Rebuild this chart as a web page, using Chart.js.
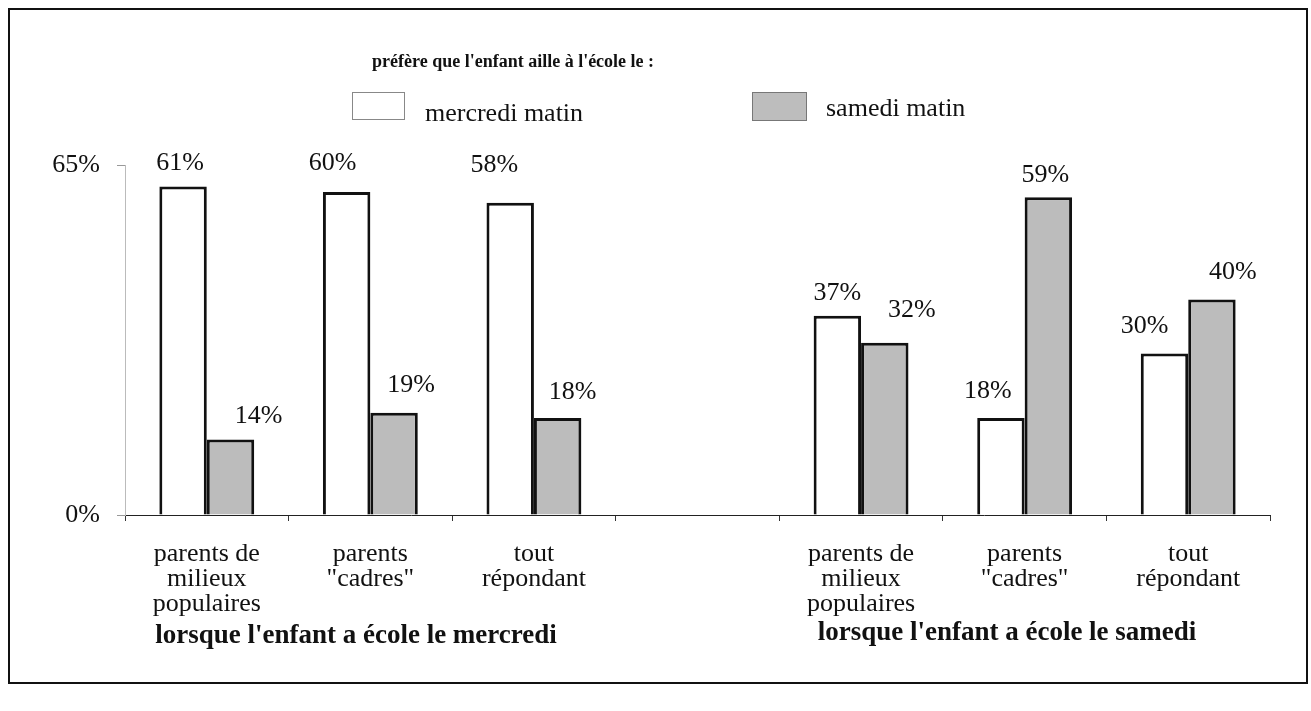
<!DOCTYPE html>
<html>
<head>
<meta charset="utf-8">
<script src="https://cdn.jsdelivr.net/npm/chart.js@4.4.1/dist/chart.umd.min.js"></script>
<style>
  body { margin: 0; background: #fff; font-family: "Liberation Serif", serif; color: #111; }
  #wrap { position: relative; width: 1311px; height: 711px; overflow: hidden; }
  #frame { position: absolute; left: 8px; top: 8px; width: 1296px; height: 672px; border: 2px solid #111; }
  canvas { position: absolute; left: 0; top: 0; }
  .txt { position: absolute; white-space: nowrap; line-height: 1.15; }
  .title { font-weight: bold; font-size: 18px; }
  .sub { font-weight: bold; font-size: 27px; transform: translateX(-50%); }
  .leg { font-size: 26px; }
  .box { position: absolute; }
</style>
</head>
<body>
<div id="wrap">
  <div id="frame"></div>
  <canvas id="chart" width="1311" height="711"></canvas>
  <div class="txt title" style="left:372px; top:51px;">préfère que l'enfant aille à l'école le :</div>
  <div class="box" style="left:352px; top:92px; width:51px; height:26px; border:1px solid #888; background:#fff;"></div>
  <div class="txt leg" style="left:425px; top:98px;">mercredi matin</div>
  <div class="box" style="left:752px; top:92px; width:53px; height:27px; border:1px solid #777; background:#bdbdbd;"></div>
  <div class="txt leg" style="left:826px; top:93px;">samedi matin</div>
  <div class="txt sub" style="left:356px; top:619px;">lorsque l'enfant a école le mercredi</div>
  <div class="txt sub" style="left:1007px; top:616px;">lorsque l'enfant a école le samedi</div>
</div>
<script>
const categories = [
  ['parents de', 'milieux', 'populaires'],
  ['parents', '"cadres"'],
  ['tout', 'répondant'],
  '',
  ['parents de', 'milieux', 'populaires'],
  ['parents', '"cadres"'],
  ['tout', 'répondant']
];
const mercrediMatin = [61, 60, 58, null, 37, 18, 30];
const samediMatin = [14, 19, 18, null, 32, 59, 40];
const yTicks = [0, 65];

// nudges for the value labels, in pixels from the top centre of each bar
const whiteLabelNudge = [[-3, -23], [-14, -29], [-16, -38], null, [0, -23], [-13, -27], [-20, -27]];
const greyLabelNudge = [[28, -23], [17, -28], [15, -26], null, [27, -33], [-3, -22], [21, -27]];

const valueLabels = {
  id: 'valueLabels',
  afterDatasetsDraw(chart) {
    const ctx = chart.ctx;
    ctx.save();
    ctx.font = '26px "Liberation Serif"';
    ctx.fillStyle = '#111';
    ctx.textAlign = 'center';
    ctx.textBaseline = 'middle';
    chart.data.datasets.forEach((ds, di) => {
      const nudges = di === 0 ? whiteLabelNudge : greyLabelNudge;
      chart.getDatasetMeta(di).data.forEach((bar, i) => {
        if (ds.data[i] == null) return;
        const n = nudges[i];
        ctx.fillText(ds.data[i] + '%', bar.x + n[0], bar.y + n[1]);
      });
    });
    ctx.restore();
  }
};

new Chart(document.getElementById('chart'), {
  type: 'bar',
  data: {
    labels: categories,
    datasets: [
      {
        label: 'mercredi matin',
        data: mercrediMatin,
        backgroundColor: '#ffffff',
        borderColor: '#111',
        borderWidth: 3,
        borderSkipped: 'bottom'
      },
      {
        label: 'samedi matin',
        data: samediMatin,
        backgroundColor: '#bcbcbc',
        borderColor: '#111',
        borderWidth: 3,
        borderSkipped: 'bottom'
      }
    ]
  },
  options: {
    responsive: false,
    animation: false,
    devicePixelRatio: 1,
    categoryPercentage: 0.58,
    barPercentage: 1,
    layout: { padding: { left: 0, top: 165, right: 41, bottom: 0 } },
    plugins: {
      legend: { display: false },
      tooltip: { enabled: false }
    },
    scales: {
      x: {
        afterFit: s => { s.height = 196; },
        border: { color: '#222', width: 1 },
        grid: { offset: true, drawOnChartArea: false, tickLength: 6, color: '#333' },
        ticks: {
          color: '#111',
          padding: 21,
          maxRotation: 0,
          autoSkip: false,
          font: { family: 'Liberation Serif', size: 26, lineHeight: '25px' }
        }
      },
      y: {
        min: 0,
        max: 65,
        afterFit: s => { s.width = 125; },
        afterBuildTicks: s => { s.ticks = yTicks.map(v => ({ value: v })); },
        border: { color: '#bbb', width: 1, dash: [6, 3] },
        grid: { drawOnChartArea: false, tickLength: 8, color: '#999' },
        ticks: {
          color: '#111',
          padding: 17,
          callback: v => v + '%',
          font: { family: 'Liberation Serif', size: 26 }
        }
      }
    }
  },
  plugins: [valueLabels]
});
</script>
</body>
</html>
